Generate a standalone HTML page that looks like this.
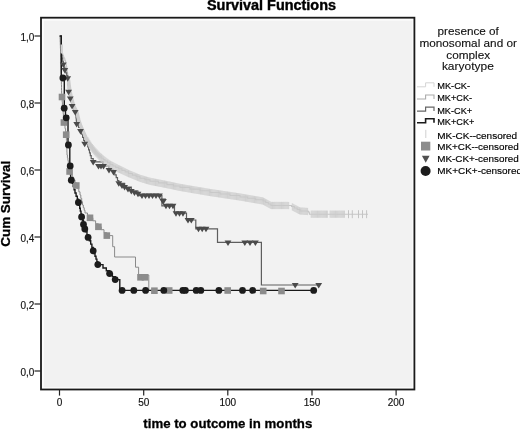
<!DOCTYPE html>
<html><head><meta charset="utf-8"><style>
html,body{margin:0;padding:0;background:#fff;width:520px;height:429px;overflow:hidden}
svg text{font-family:"Liberation Sans",Arial,sans-serif}
</style></head><body>
<svg width="520" height="429" viewBox="0 0 520 429" style="position:absolute;left:0;top:0">
<rect x="41" y="17.7" width="373.4" height="371.8" fill="#fcfcfc"/>
<rect x="43.9" y="20.6" width="368.4" height="366.6" fill="#f2f2f2"/>
<path d="M60.5,36.0H60.7V37.5H60.8V39.0H61.0V40.5H61.2V42.0H61.3V43.5H61.5V45.0H61.6V46.5H61.7V48.0H61.9V49.5H62.0V51.0H62.1V52.5H62.2V54.0H62.9V55.6H63.5V57.2H64.2V58.8H64.8V60.4H65.5V62.0H65.8V63.6H66.1V65.2H66.4V66.8H66.7V68.4H67.0V70.0H67.2V71.4H67.4V72.9H67.6V74.3H67.9V75.7H68.1V77.1H68.3V78.6H68.5V80.0H68.7V81.4H68.9V82.9H69.1V84.3H69.2V85.7H69.4V87.1H69.6V88.6H69.8V90.0H70.1V91.4H70.4V92.8H70.7V94.2H71.0V95.7H71.3V97.1H71.6V98.5H72.0V99.9H72.4V101.3H72.8V102.7H73.2V104.1H73.6V105.5H74.4V107.1H75.2V108.8H76.0V110.4H76.8V112.0H77.2V113.6H77.6V115.2H78.0V116.8H78.4V118.4H78.8V120.0H79.3V121.5H79.8V123.0H80.3V124.5H80.8V126.0H81.5V127.7H82.3V129.3H83.0V131.0H83.7V132.5H84.3V134.0H85.0V135.5H85.7V137.0H86.3V138.5H87.0V140.0H88.0V141.6H89.0V143.2H90.0V144.9H91.0V146.5H92.3V148.2H93.7V149.8H95.0V151.5H96.2V152.8H97.5V154.2H98.8V155.5H100.0V156.8H101.7V158.2H103.3V159.6H105.0V161.0H107.5V162.8H110.0V164.6H112.9V166.0H115.7V167.4H118.6V168.8H121.9V170.4H125.2V171.9H128.5V173.5H132.3V175.1H136.2V176.7H140.0V178.3H145.0V179.8H150.0V181.3H158.4V182.9H166.9V184.6H173.4V186.0H180.0V187.4H190.0V189.1H200.0V190.8H210.0V192.5H220.0V194.0H230.0V195.5H240.0V197.0H247.7V198.3H255.3V199.7H263.0V201.0H265.7V202.5H268.3V204.0H271.0V205.5H288.5H291.5V206.5H294.3V208.0H297.2V209.5H300.0V211.0H308.0V211.5H308.8V212.8H309.5V214.2H368.0" fill="none" stroke="#c6c6c6" stroke-width="1.1"/>
<path d="M60.0,36.0H60.1V39.1H60.2V42.2H60.3V45.3H60.4V48.4H60.5V51.5H60.5V54.5H60.6V57.6H60.7V60.7H60.8V63.8H60.9V66.9H61.0V70.0H61.1V72.9H61.2V75.9H61.2V78.8H61.3V81.7H61.4V84.7H61.5V87.6H61.5V90.5H61.6V93.5H61.7V96.4H61.9V99.3H62.2V102.2H62.4V105.1H62.7V108.0H62.9V110.9H63.2V113.8H63.4V116.7H63.7V119.6H63.9V122.5H64.5V125.5H65.0V128.6H65.6V131.6H66.2V134.7H66.3V137.6H66.4V140.5H66.5V143.4H66.7V146.3H66.8V149.2H66.9V152.1H67.0V155.0H67.4V157.8H67.9V160.5H68.3V163.2H68.7V166.0H69.2V168.8H69.6V171.5H70.9V174.3H72.3V177.1H73.6V179.9H75.0V182.7H76.3V185.5H77.5V188.7H78.8V191.8H80.0V195.0H80.8V198.3H81.7V201.7H82.5V205.0H83.3V207.7H84.2V210.3H85.0V213.0H87.5V215.4H90.0V217.8H92.8V220.8H95.6V223.8H98.4V226.8H101.2V229.7H104.0V232.7H106.8V235.6H112.7V236.0V246.7H114.6V257.0H135.5V267.2H138.6V275.0H148.8V290.5H281.5" fill="none" stroke="#8a8a8a" stroke-width="1"/>
<path d="M60.0,36.0H61.3V40.0H61.3V43.0H61.4V46.0H61.4V49.0H61.5V52.0H61.5V55.0H62.1V58.2H62.7V61.3H63.3V64.5H64.0V67.2H64.8V70.0H65.8V72.8H66.7V75.5H67.7V78.3H67.9V81.7H68.2V85.0H68.4V88.3H68.6V91.7H69.4V95.1H70.3V98.5H71.2V102.2H72.1V105.9H73.7V109.0H75.2V112.0H75.6V115.0H76.0V118.0H76.3V121.0H76.7V124.0H78.6V127.5H80.5V130.9H81.5V134.1H82.6V137.3H83.7V140.5H84.7V143.7H87.7V147.0H88.6V149.9H89.5V152.8H90.3V155.7H91.2V158.6H93.2V161.9H103.0V166.0H109.0V170.0H113.5V172.0H114.8V174.8H116.2V177.7H117.5V180.5H118.8V183.3H124.6V187.1H131.3V191.0H138.0V193.8H139.0V195.6H161.9V205.8H174.5V213.2H186.5V220.0H195.8V228.8H217.5V242.4H261.4V285.0H319.4" fill="none" stroke="#5e5e5e" stroke-width="1.2"/>
<path d="M59.5,36H61.3V77H62.9V79H64.3V107H65.5V116H68V145H69.8V166H70.6V180H71.3L71.3,180.2H72.2V183.4H73.2V186.6H74.1V189.8H75.0V193.0H76.1V196.2H77.3V199.3H78.4V202.5H79.0V205.4H79.7V208.3H80.3V211.1H81.0V214.0H81.6V216.9H82.5V220.7H83.5V224.4H84.2V226.7H84.8V229.0H85.9V231.8H87.0V234.6H88.1V237.4H89.4V240.8H90.7V244.1H91.9V247.5H93.2V250.8H94.1V253.6H95.0V256.3H96.0V259.1H96.9V261.8H97.8V264.6H103.0V268.0H106.3V270.8H109.6V273.6H112.4V276.6H115.2V279.6H119.8V281.5V290.4H313.7" fill="none" stroke="#1a1a1a" stroke-width="1.4"/>
<path d="M68.5,80.0 L69.8,90.0 L71.6,98.5 L73.6,105.5 L76.8,112.0 L78.8,120.0 L80.8,126.0 L83.0,131.0 L87.0,140.0 L91.0,146.5 L95.0,151.5 L100.0,156.8" fill="none" stroke="#cdcdcd" stroke-width="3.4" stroke-linejoin="round" stroke-linecap="round"/>
<path d="M88.0,137.1v9.0M88.9,138.6v9.0M89.8,140.1v8.9M90.7,141.6v8.9M91.6,142.8v8.8M92.5,144.0v8.8M93.4,145.1v8.8M94.3,146.3v8.7M95.2,147.4v8.7M96.1,148.3v8.7M97.0,149.3v8.6M97.9,150.3v8.6M98.8,151.3v8.5M99.7,152.2v8.5M100.6,153.1v8.5M101.5,153.8v8.4M102.4,154.6v8.4M103.3,155.4v8.3M104.2,156.2v8.3M105.1,156.9v8.3M106.0,157.6v8.2M106.9,158.3v8.2M107.8,158.9v8.2M108.7,159.6v8.1M109.6,160.3v8.1M110.5,160.8v8.0M111.4,161.3v8.0M112.3,161.7v8.0M113.2,162.2v7.9M114.1,162.7v7.9M115.0,163.1v7.8M115.9,163.6v7.8M116.8,164.0v7.8M117.7,164.5v7.7M118.6,165.0v7.7M119.5,165.4v7.6M120.4,165.8v7.6M121.3,166.3v7.6M122.2,166.7v7.5M123.1,167.2v7.5M124.0,167.6v7.5M124.9,168.1v7.4M125.8,168.5v7.4M126.7,169.0v7.3M127.6,169.4v7.3M128.5,169.9v7.3M129.4,170.3v7.2M130.3,170.7v7.2M131.2,171.0v7.2M132.1,171.4v7.2M133.0,171.8v7.2M133.9,172.2v7.2M134.8,172.5v7.2M135.7,172.9v7.2M136.6,173.3v7.2M137.5,173.7v7.2M138.4,174.0v7.2M139.3,174.4v7.2M140.2,174.8v7.2M141.1,175.0v7.2M142.0,175.3v7.2M142.9,175.6v7.2M143.8,175.8v7.2M144.7,176.1v7.2M145.6,176.4v7.2M146.5,176.7v7.2M147.4,176.9v7.2M148.3,177.2v7.2M149.2,177.5v7.2M150.1,177.7v7.2M151.0,177.9v7.2M151.9,178.1v7.2M152.8,178.2v7.2M153.7,178.4v7.2M154.6,178.6v7.2M155.5,178.8v7.2M156.4,178.9v7.2M157.3,179.1v7.2M158.2,179.3v7.2M159.1,179.5v7.2M160.0,179.7v7.2M160.9,179.8v7.2M161.8,180.0v7.2M162.7,180.2v7.2M163.6,180.4v7.2M164.5,180.5v7.2M165.4,180.7v7.2M166.3,180.9v7.2M167.2,181.1v7.2M168.1,181.3v7.2M169.0,181.4v7.2M169.9,181.6v7.2M170.8,181.8v7.2M171.7,182.0v7.2M172.6,182.2v7.2M173.5,182.4v7.2M174.4,182.6v7.2M175.3,182.8v7.2M176.2,183.0v7.2M177.1,183.2v7.2M178.0,183.4v7.2M178.9,183.6v7.2M179.8,183.8v7.2M180.7,183.9v7.2M181.6,184.1v7.2M182.5,184.2v7.2M183.4,184.4v7.2M184.3,184.5v7.2M185.2,184.7v7.2M186.1,184.8v7.2M187.0,185.0v7.2M187.9,185.1v7.2M188.8,185.3v7.2M189.7,185.4v7.2M190.6,185.6v7.2M191.5,185.8v7.2M192.4,185.9v7.2M193.3,186.1v7.2M194.2,186.2v7.2M195.1,186.4v7.2M196.0,186.5v7.2M196.9,186.7v7.2M197.8,186.8v7.2M198.7,187.0v7.2M199.6,187.1v7.2M200.5,187.3v7.2M201.4,187.4v7.2M202.3,187.6v7.2M203.2,187.7v7.2M204.1,187.9v7.2M205.0,188.1v7.2M205.9,188.2v7.2M206.8,188.4v7.2M207.7,188.5v7.2M208.6,188.7v7.2M209.5,188.8v7.2M210.4,189.0v7.2M211.3,189.1v7.2M212.2,189.2v7.2M213.1,189.4v7.2M214.0,189.5v7.2M214.9,189.6v7.2M215.8,189.8v7.2M216.7,189.9v7.2M217.6,190.0v7.2M218.5,190.2v7.2M219.4,190.3v7.2M220.3,190.4v7.2M221.2,190.6v7.2M222.1,190.7v7.2M223.0,190.9v7.2M223.9,191.0v7.2M224.8,191.1v7.2M225.7,191.3v7.2M226.6,191.4v7.2M227.5,191.5v7.2M228.4,191.7v7.2M229.3,191.8v7.2M230.2,191.9v7.2M231.1,192.1v7.2M232.0,192.2v7.2M232.9,192.3v7.2M233.8,192.5v7.2M234.7,192.6v7.2M235.6,192.7v7.2M236.5,192.9v7.2M237.4,193.0v7.2M238.3,193.1v7.2M239.2,193.3v7.2M240.1,193.4v7.2M241.0,193.6v7.2M241.9,193.7v7.2M242.8,193.9v7.2M243.7,194.0v7.2M244.6,194.2v7.2M245.5,194.4v7.2M246.4,194.5v7.2M247.3,194.7v7.2M248.2,194.8v7.2M249.1,195.0v7.2M250.0,195.1v7.2M250.9,195.3v7.2M251.8,195.5v7.2M252.7,195.6v7.2M253.6,195.8v7.2M254.5,195.9v7.2M255.4,196.1v7.2M256.3,196.2v7.2M257.2,196.4v7.2M258.1,196.5v7.2M259.0,196.7v7.2M259.9,196.9v7.2M260.8,197.0v7.2M261.7,197.2v7.2M262.6,197.3v7.2M263.5,197.7v7.2M264.4,198.2v7.2M265.3,198.7v7.2M266.2,199.2v7.2M267.1,199.7v7.2M268.0,200.2v7.2M268.9,200.7v7.2M269.8,201.2v7.2M270.7,201.7v7.2M271.6,201.9v7.2M272.5,201.9v7.2M273.4,201.9v7.2M274.3,201.9v7.2M275.2,201.9v7.2M276.1,201.9v7.2M277.0,201.9v7.2M277.9,201.9v7.2M278.8,201.9v7.2M279.7,201.9v7.2M280.6,201.9v7.2M281.5,201.9v7.2M282.4,201.9v7.2M283.3,201.9v7.2M284.2,201.9v7.2M285.1,201.9v7.2M286.0,201.9v7.2M286.9,201.9v7.2M287.8,201.9v7.2M288.7,202.0v7.2M292.3,203.3v7.2M293.2,203.8v7.2M294.1,204.3v7.2M295.0,204.8v7.2M295.9,205.2v7.2M296.8,205.7v7.2M297.7,206.2v7.2M298.6,206.7v7.2M299.5,207.1v7.2M300.4,207.4v7.2M301.3,207.5v7.2M302.2,207.5v7.2M303.1,207.6v7.2M304.0,207.7v7.2M304.9,207.7v7.2M305.8,207.8v7.2M306.7,207.8v7.2M307.6,207.9v7.2M311.2,210.6v7.2M312.1,210.6v7.2M313.0,210.6v7.2M313.9,210.6v7.2M314.8,210.6v7.2M315.7,210.6v7.2M316.6,210.6v7.2M317.5,210.6v7.2M318.4,210.6v7.2M319.3,210.6v7.2M320.2,210.6v7.2M321.1,210.6v7.2M322.0,210.6v7.2M322.9,210.6v7.2M323.8,210.6v7.2M324.7,210.6v7.2M325.6,210.6v7.2M326.5,210.6v7.2M327.4,210.6v7.2M330.1,210.6v7.2M331.0,210.6v7.2M331.9,210.6v7.2M332.8,210.6v7.2M333.7,210.6v7.2M334.6,210.6v7.2M335.5,210.6v7.2M336.4,210.6v7.2M337.3,210.6v7.2M338.2,210.6v7.2M339.1,210.6v7.2M340.0,210.6v7.2M340.9,210.6v7.2M341.8,210.6v7.2M342.7,210.6v7.2M343.6,210.6v7.2M344.5,210.6v7.2" stroke="#cacaca" stroke-width="0.8"/>
<path d="M348.5,210.2v8M352.3,210.2v8M358.5,210.2v8M362.5,210.2v8M366.6,210.2v8" stroke="#c4c4c4" stroke-width="1"/>
<path d="M61.8,44.5V53.5" stroke="#d2d2d2" stroke-width="2.4"/>
<rect x="58.7" y="93.7" width="6.6" height="6.6" fill="#8c8c8c"/>
<rect x="60.6" y="119.2" width="6.6" height="6.6" fill="#8c8c8c"/>
<rect x="62.9" y="131.4" width="6.6" height="6.6" fill="#8c8c8c"/>
<rect x="66.3" y="168.2" width="6.6" height="6.6" fill="#8c8c8c"/>
<rect x="73.0" y="182.2" width="6.6" height="6.6" fill="#8c8c8c"/>
<rect x="86.7" y="214.5" width="6.6" height="6.6" fill="#8c8c8c"/>
<rect x="95.1" y="223.5" width="6.6" height="6.6" fill="#8c8c8c"/>
<rect x="103.5" y="232.3" width="6.6" height="6.6" fill="#8c8c8c"/>
<rect x="137.2" y="274.0" width="6.6" height="6.6" fill="#8c8c8c"/>
<rect x="141.7" y="274.0" width="6.6" height="6.6" fill="#8c8c8c"/>
<rect x="151.1" y="287.4" width="6.6" height="6.6" fill="#8c8c8c"/>
<rect x="165.9" y="287.2" width="6.6" height="6.6" fill="#8c8c8c"/>
<rect x="224.4" y="287.2" width="6.6" height="6.6" fill="#8c8c8c"/>
<rect x="259.9" y="287.7" width="6.6" height="6.6" fill="#8c8c8c"/>
<rect x="278.2" y="287.7" width="6.6" height="6.6" fill="#8c8c8c"/>
<path d="M59.9,62.5h6.8l-3.4,5.5z" fill="#4a4a4a"/>
<path d="M61.4,68.0h6.8l-3.4,5.5z" fill="#4a4a4a"/>
<path d="M64.3,76.3h6.8l-3.4,5.5z" fill="#4a4a4a"/>
<path d="M65.2,89.7h6.8l-3.4,5.5z" fill="#4a4a4a"/>
<path d="M66.9,96.5h6.8l-3.4,5.5z" fill="#4a4a4a"/>
<path d="M68.7,103.9h6.8l-3.4,5.5z" fill="#4a4a4a"/>
<path d="M71.8,110.0h6.8l-3.4,5.5z" fill="#4a4a4a"/>
<path d="M73.3,122.0h6.8l-3.4,5.5z" fill="#4a4a4a"/>
<path d="M77.1,128.9h6.8l-3.4,5.5z" fill="#4a4a4a"/>
<path d="M81.3,141.7h6.8l-3.4,5.5z" fill="#4a4a4a"/>
<path d="M89.8,159.9h6.8l-3.4,5.5z" fill="#4a4a4a"/>
<path d="M95.1,164.0h6.8l-3.4,5.5z" fill="#4a4a4a"/>
<path d="M97.6,164.0h6.8l-3.4,5.5z" fill="#4a4a4a"/>
<path d="M100.1,164.0h6.8l-3.4,5.5z" fill="#4a4a4a"/>
<path d="M105.6,168.0h6.8l-3.4,5.5z" fill="#4a4a4a"/>
<path d="M110.1,170.0h6.8l-3.4,5.5z" fill="#4a4a4a"/>
<path d="M115.4,181.3h6.8l-3.4,5.5z" fill="#4a4a4a"/>
<path d="M118.6,183.5h6.8l-3.4,5.5z" fill="#4a4a4a"/>
<path d="M121.2,185.1h6.8l-3.4,5.5z" fill="#4a4a4a"/>
<path d="M124.6,187.0h6.8l-3.4,5.5z" fill="#4a4a4a"/>
<path d="M127.9,189.0h6.8l-3.4,5.5z" fill="#4a4a4a"/>
<path d="M131.1,190.5h6.8l-3.4,5.5z" fill="#4a4a4a"/>
<path d="M134.6,191.8h6.8l-3.4,5.5z" fill="#4a4a4a"/>
<path d="M138.6,193.6h6.8l-3.4,5.5z" fill="#4a4a4a"/>
<path d="M142.1,193.6h6.8l-3.4,5.5z" fill="#4a4a4a"/>
<path d="M145.6,193.6h6.8l-3.4,5.5z" fill="#4a4a4a"/>
<path d="M149.1,193.6h6.8l-3.4,5.5z" fill="#4a4a4a"/>
<path d="M152.6,193.6h6.8l-3.4,5.5z" fill="#4a4a4a"/>
<path d="M156.1,193.6h6.8l-3.4,5.5z" fill="#4a4a4a"/>
<path d="M159.2,198.5h6.8l-3.4,5.5z" fill="#4a4a4a"/>
<path d="M160.0,199.0h6.8l-3.4,5.5z" fill="#4a4a4a"/>
<path d="M162.6,203.8h6.8l-3.4,5.5z" fill="#4a4a4a"/>
<path d="M166.1,203.8h6.8l-3.4,5.5z" fill="#4a4a4a"/>
<path d="M169.6,203.8h6.8l-3.4,5.5z" fill="#4a4a4a"/>
<path d="M172.6,211.2h6.8l-3.4,5.5z" fill="#4a4a4a"/>
<path d="M176.1,211.2h6.8l-3.4,5.5z" fill="#4a4a4a"/>
<path d="M179.6,211.2h6.8l-3.4,5.5z" fill="#4a4a4a"/>
<path d="M184.6,218.0h6.8l-3.4,5.5z" fill="#4a4a4a"/>
<path d="M187.9,218.0h6.8l-3.4,5.5z" fill="#4a4a4a"/>
<path d="M195.1,226.8h6.8l-3.4,5.5z" fill="#4a4a4a"/>
<path d="M198.8,226.8h6.8l-3.4,5.5z" fill="#4a4a4a"/>
<path d="M202.6,226.8h6.8l-3.4,5.5z" fill="#4a4a4a"/>
<path d="M224.6,240.4h6.8l-3.4,5.5z" fill="#4a4a4a"/>
<path d="M241.4,240.4h6.8l-3.4,5.5z" fill="#4a4a4a"/>
<path d="M246.6,240.4h6.8l-3.4,5.5z" fill="#4a4a4a"/>
<path d="M252.0,240.4h6.8l-3.4,5.5z" fill="#4a4a4a"/>
<path d="M291.8,283.0h6.8l-3.4,5.5z" fill="#4a4a4a"/>
<path d="M315.3,283.0h6.8l-3.4,5.5z" fill="#4a4a4a"/>
<circle cx="62.9" cy="78.0" r="3.4" fill="#1c1c1c"/>
<circle cx="64.2" cy="108.2" r="3.4" fill="#1c1c1c"/>
<circle cx="66.2" cy="117.8" r="3.4" fill="#1c1c1c"/>
<circle cx="68.4" cy="145.0" r="3.4" fill="#1c1c1c"/>
<circle cx="70.2" cy="165.9" r="3.4" fill="#1c1c1c"/>
<circle cx="71.3" cy="180.2" r="3.4" fill="#1c1c1c"/>
<circle cx="78.4" cy="202.5" r="3.4" fill="#1c1c1c"/>
<circle cx="81.6" cy="216.9" r="3.4" fill="#1c1c1c"/>
<circle cx="83.5" cy="224.4" r="3.4" fill="#1c1c1c"/>
<circle cx="84.8" cy="229.0" r="3.4" fill="#1c1c1c"/>
<circle cx="88.1" cy="237.4" r="3.4" fill="#1c1c1c"/>
<circle cx="93.2" cy="250.8" r="3.4" fill="#1c1c1c"/>
<circle cx="97.8" cy="264.6" r="3.4" fill="#1c1c1c"/>
<circle cx="109.6" cy="273.6" r="3.4" fill="#1c1c1c"/>
<circle cx="115.2" cy="279.6" r="3.4" fill="#1c1c1c"/>
<circle cx="122.1" cy="290.4" r="3.4" fill="#1c1c1c"/>
<circle cx="133.8" cy="290.4" r="3.4" fill="#1c1c1c"/>
<circle cx="145.6" cy="290.4" r="3.4" fill="#1c1c1c"/>
<circle cx="163.8" cy="290.4" r="3.4" fill="#1c1c1c"/>
<circle cx="182.8" cy="290.4" r="3.4" fill="#1c1c1c"/>
<circle cx="185.4" cy="290.4" r="3.4" fill="#1c1c1c"/>
<circle cx="196.2" cy="290.4" r="3.4" fill="#1c1c1c"/>
<circle cx="200.8" cy="290.4" r="3.4" fill="#1c1c1c"/>
<circle cx="218.9" cy="290.4" r="3.4" fill="#1c1c1c"/>
<circle cx="242.5" cy="290.4" r="3.4" fill="#1c1c1c"/>
<circle cx="252.7" cy="290.4" r="3.4" fill="#1c1c1c"/>
<circle cx="313.7" cy="290.4" r="3.4" fill="#1c1c1c"/>
<rect x="41" y="17.7" width="373.4" height="371.8" fill="none" stroke="#1a1a1a" stroke-width="1.8"/>
<path d="M34.5,371H41" stroke="#222" stroke-width="1.2"/>
<text x="34.3" y="375.6" text-anchor="end" font-size="10" fill="#111" stroke="#111" stroke-width="0.15">0,0</text>
<path d="M34.5,304H41" stroke="#222" stroke-width="1.2"/>
<text x="34.3" y="308.6" text-anchor="end" font-size="10" fill="#111" stroke="#111" stroke-width="0.15">0,2</text>
<path d="M34.5,237H41" stroke="#222" stroke-width="1.2"/>
<text x="34.3" y="241.6" text-anchor="end" font-size="10" fill="#111" stroke="#111" stroke-width="0.15">0,4</text>
<path d="M34.5,170H41" stroke="#222" stroke-width="1.2"/>
<text x="34.3" y="174.6" text-anchor="end" font-size="10" fill="#111" stroke="#111" stroke-width="0.15">0,6</text>
<path d="M34.5,103H41" stroke="#222" stroke-width="1.2"/>
<text x="34.3" y="107.6" text-anchor="end" font-size="10" fill="#111" stroke="#111" stroke-width="0.15">0,8</text>
<path d="M34.5,36H41" stroke="#222" stroke-width="1.2"/>
<text x="34.3" y="40.6" text-anchor="end" font-size="10" fill="#111" stroke="#111" stroke-width="0.15">1,0</text>
<path d="M59.5,389.5V395.6" stroke="#222" stroke-width="1.2"/>
<text x="59.5" y="406.2" text-anchor="middle" font-size="10" fill="#111" stroke="#111" stroke-width="0.15">0</text>
<path d="M143.7,389.5V395.6" stroke="#222" stroke-width="1.2"/>
<text x="143.7" y="406.2" text-anchor="middle" font-size="10" fill="#111" stroke="#111" stroke-width="0.15">50</text>
<path d="M227.8,389.5V395.6" stroke="#222" stroke-width="1.2"/>
<text x="227.8" y="406.2" text-anchor="middle" font-size="10" fill="#111" stroke="#111" stroke-width="0.15">100</text>
<path d="M312.0,389.5V395.6" stroke="#222" stroke-width="1.2"/>
<text x="312.0" y="406.2" text-anchor="middle" font-size="10" fill="#111" stroke="#111" stroke-width="0.15">150</text>
<path d="M396.1,389.5V395.6" stroke="#222" stroke-width="1.2"/>
<text x="396.1" y="406.2" text-anchor="middle" font-size="10" fill="#111" stroke="#111" stroke-width="0.15">200</text>
<text x="207" y="10.4" font-size="14" font-weight="bold" textLength="129" lengthAdjust="spacingAndGlyphs" fill="#000" stroke="#000" stroke-width="0.4">Survival Functions</text>
<text x="143.3" y="427.7" font-size="13.6" font-weight="bold" textLength="169" lengthAdjust="spacingAndGlyphs" fill="#000" stroke="#000" stroke-width="0.3">time to outcome in months</text>
<text transform="translate(10.3,246.8) rotate(-90)" x="0" y="0" font-size="13.6" font-weight="bold" textLength="86" lengthAdjust="spacingAndGlyphs" fill="#000" stroke="#000" stroke-width="0.3">Cum Survival</text>
<text x="437.6" y="34.5" font-size="10.8" textLength="61.2" lengthAdjust="spacingAndGlyphs" fill="#111" stroke="#111" stroke-width="0.12">presence of</text>
<text x="419.4" y="47" font-size="10.8" textLength="97.6" lengthAdjust="spacingAndGlyphs" fill="#111" stroke="#111" stroke-width="0.12">monosomal and or</text>
<text x="446.3" y="59.1" font-size="10.8" textLength="43.9" lengthAdjust="spacingAndGlyphs" fill="#111" stroke="#111" stroke-width="0.12">complex</text>
<text x="441.9" y="70.1" font-size="10.8" textLength="51.9" lengthAdjust="spacingAndGlyphs" fill="#111" stroke="#111" stroke-width="0.12">karyotype</text>
<text x="437.2" y="89.2" font-size="9.2" textLength="32.9" lengthAdjust="spacingAndGlyphs" fill="#000" stroke="#000" stroke-width="0.15">MK-CK-</text>
<text x="437.2" y="101.4" font-size="9.2" fill="#000" stroke="#000" stroke-width="0.15">MK+CK-</text>
<text x="437.2" y="113.5" font-size="9.2" fill="#000" stroke="#000" stroke-width="0.15">MK-CK+</text>
<text x="437.2" y="125.1" font-size="9.2" fill="#000" stroke="#000" stroke-width="0.15">MK+CK+</text>
<text x="437.2" y="138.5" font-size="9.2" textLength="80.0" lengthAdjust="spacingAndGlyphs" fill="#000" stroke="#000" stroke-width="0.15">MK-CK--censored</text>
<text x="437.2" y="150.1" font-size="9.2" textLength="81.6" lengthAdjust="spacingAndGlyphs" fill="#000" stroke="#000" stroke-width="0.15">MK+CK--censored</text>
<text x="437.2" y="162.2" font-size="9.2" textLength="81.6" lengthAdjust="spacingAndGlyphs" fill="#000" stroke="#000" stroke-width="0.15">MK-CK+-censored</text>
<text x="437.2" y="173.8" font-size="9.2" textLength="84.8" lengthAdjust="spacingAndGlyphs" fill="#000" stroke="#000" stroke-width="0.15">MK+CK+-censored</text>
<path d="M417,86.8H425.6V82.8H434V86.8" fill="none" stroke="#d4d4d4" stroke-width="1"/>
<path d="M417,99.0H425.6V95.0H434V99.0" fill="none" stroke="#ababab" stroke-width="1.1"/>
<path d="M417,111.1H425.6V107.1H434V111.1" fill="none" stroke="#666666" stroke-width="1.2"/>
<path d="M417,122.7H425.6V118.7H434V122.7" fill="none" stroke="#1a1a1a" stroke-width="1.6"/>
<path d="M425.8,129.8V138" stroke="#d0d0d0" stroke-width="1"/>
<rect x="421" y="141.7" width="9.3" height="8.8" fill="#8c8c8c"/>
<path d="M421.9,155.7H429.6L425.75,162.7Z" fill="#505050"/>
<circle cx="425.6" cy="171" r="5" fill="#1c1c1c"/>
</svg>
</body></html>
